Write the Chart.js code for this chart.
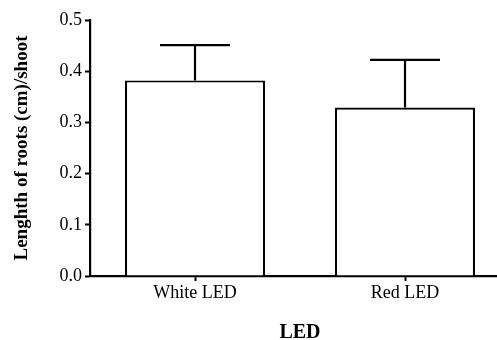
<!DOCTYPE html>
<html>
<head>
<meta charset="utf-8">
<script src="https://cdn.jsdelivr.net/npm/chart.js@4/dist/chart.umd.min.js"></script>
<style>
  html, body { margin: 0; padding: 0; background: #fff; overflow: hidden; }
  #wrap { width: 510px; height: 345px; }
</style>
</head>
<body>
<div id="wrap"><canvas id="barChart" width="510" height="345"></canvas></div>
<script>
const categories = ["White LED", "Red LED"];
const meanValues = [0.382, 0.329];
const errorValues = [0.069, 0.093];
const yTicks = [0.0, 0.1, 0.2, 0.3, 0.4, 0.5];

const serif = "'Liberation Serif', 'Times New Roman', serif";

// upper error bars, drawn through the chart scales
const errorBars = {
    id: "errorBars",
    afterDatasetsDraw(chart) {
        const ctx = chart.ctx;
        const meta = chart.getDatasetMeta(0);
        const y = chart.scales.y;
        ctx.save();
        ctx.strokeStyle = "#000";
        ctx.lineWidth = 2.2;
        meta.data.forEach((bar, i) => {
            const top = y.getPixelForValue(meanValues[i] + errorValues[i]);
            const base = y.getPixelForValue(meanValues[i]);
            const half = bar.width / 4;
            ctx.beginPath();
            ctx.moveTo(bar.x, base);
            ctx.lineTo(bar.x, top);
            ctx.moveTo(bar.x - half, top);
            ctx.lineTo(bar.x + half, top);
            ctx.stroke();
        });
        ctx.restore();
    }
};

const ctx = document.getElementById("barChart").getContext("2d");
new Chart(ctx, {
    type: "bar",
    data: {
        labels: categories,
        datasets: [{
            data: meanValues,
            backgroundColor: "#fff",
            borderColor: "#000",
            borderWidth: 2.2,
            borderSkipped: "bottom",
            barPercentage: 0.667,
            categoryPercentage: 1
        }]
    },
    options: {
        responsive: false,
        animation: false,
        layout: { padding: { top: 20, right: 0, left: 0, bottom: 0 } },
        plugins: {
            legend: { display: false },
            tooltip: { enabled: false }
        },
        scales: {
            x: {
                offset: true,
                grid: { offset: false, drawOnChartArea: false, tickLength: 5, tickWidth: 2, tickColor: "#000" },
                border: { color: "#000", width: 2.2 },
                ticks: { color: "#000", font: { family: serif, size: 18 }, padding: 1 },
                title: { display: true, text: "LED", color: "#000", font: { family: serif, size: 20, weight: "bold" }, padding: { top: 10, bottom: 0 } },
                afterFit(scale) { scale.height = 69; }
            },
            y: {
                min: 0,
                max: 0.5,
                afterBuildTicks(scale) { scale.ticks = yTicks.map(v => ({ value: v })); },
                grid: { drawOnChartArea: false, tickLength: 5, tickWidth: 2, tickColor: "#000" },
                border: { color: "#000", width: 2.2 },
                ticks: { color: "#000", font: { family: serif, size: 18 }, padding: 3, callback: v => v.toFixed(1) },
                title: { display: true, text: "Lenghth of roots (cm)/shoot", color: "#000", font: { family: serif, size: 19, weight: "bold" }, padding: { top: 11, bottom: 0 } },
                afterFit(scale) { scale.width = 90; }
            }
        }
    },
    plugins: [errorBars]
});
</script>
</body>
</html>
